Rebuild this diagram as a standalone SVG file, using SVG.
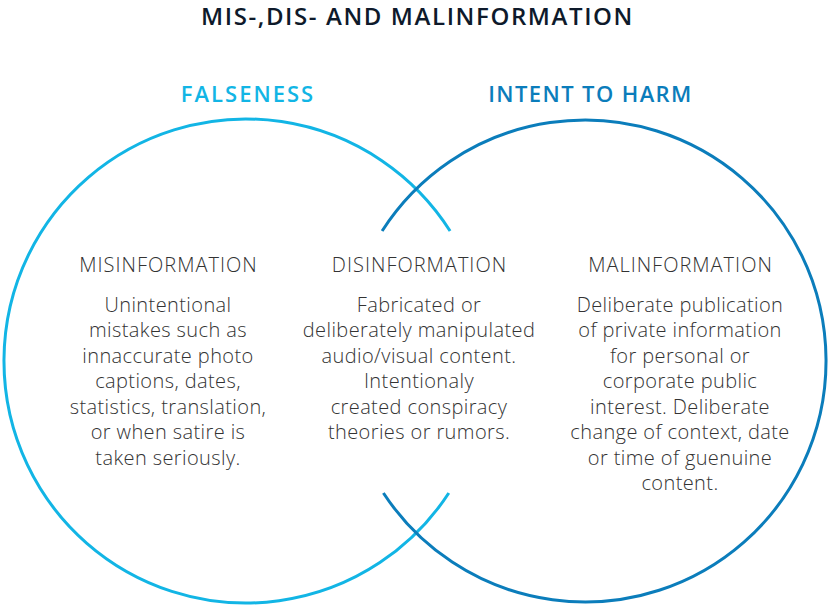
<svg xmlns="http://www.w3.org/2000/svg" width="831" height="606" viewBox="0 0 831 606">
<style>
.title{font-family:"Open Sans","Noto Sans",sans-serif;font-weight:600;font-size:24px;letter-spacing:1.6px;fill:#0e1a2b;text-anchor:middle}
.set{font-family:"Open Sans","Noto Sans",sans-serif;font-weight:600;font-size:22px;text-anchor:middle}
.head{font-family:"Open Sans","Noto Sans",sans-serif;font-weight:300;font-size:20px;letter-spacing:1px;fill:#333333;text-anchor:middle}
.body{font-family:"Open Sans","Noto Sans",sans-serif;font-weight:300;font-size:20px;letter-spacing:0.4px;fill:#333333;text-anchor:middle}
.ring{fill:none;stroke-width:3}
</style>
<rect width="831" height="606" fill="#ffffff"/>
<text class="title" x="417.5" y="25">MIS-,DIS- AND MALINFORMATION</text>
<g id="connectors">
<path class="ring" stroke="#12b5e5" d="M 450.1 231 A 242 242 0 1 0 448.8 493"/>
<path class="ring" stroke="#0b7dbb" d="M 382.1 231 A 241 241 0 1 1 383.4 493"/>
</g>
<g id="falseness">
<text class="set" x="248" y="102" fill="#12b5e5" style="letter-spacing:2px">FALSENESS</text>
</g>
<g id="intent">
<text class="set" x="590.5" y="102" fill="#0b7dbb" style="letter-spacing:1.4px">INTENT TO HARM</text>
</g>
<g id="misinformation">
<text class="head" x="168.5" y="272">MISINFORMATION</text>
<text class="body" x="168" y="311.5">Unintentional</text>
<text class="body" x="168" y="337">mistakes such as</text>
<text class="body" x="168" y="362.5">innaccurate photo</text>
<text class="body" x="168" y="388">captions, dates,</text>
<text class="body" x="168" y="413.5">statistics, translation,</text>
<text class="body" x="168" y="439">or when satire is</text>
<text class="body" x="168" y="464.5">taken seriously.</text>
</g>
<g id="disinformation">
<text class="head" x="419.5" y="272">DISINFORMATION</text>
<text class="body" x="419" y="311.5">Fabricated or</text>
<text class="body" x="419" y="337">deliberately manipulated</text>
<text class="body" x="419" y="362.5">audio/visual content.</text>
<text class="body" x="419" y="388">Intentionaly</text>
<text class="body" x="419" y="413.5">created conspiracy</text>
<text class="body" x="419" y="439">theories or rumors.</text>
</g>
<g id="malinformation">
<text class="head" x="680.5" y="272">MALINFORMATION</text>
<text class="body" x="680" y="311.5">Deliberate publication</text>
<text class="body" x="680" y="337">of private information</text>
<text class="body" x="680" y="362.5">for personal or</text>
<text class="body" x="680" y="388">corporate public</text>
<text class="body" x="680" y="413.5">interest. Deliberate</text>
<text class="body" x="680" y="439">change of context, date</text>
<text class="body" x="680" y="464.5">or time of guenuine</text>
<text class="body" x="680" y="490">content.</text>
</g>
</svg>
